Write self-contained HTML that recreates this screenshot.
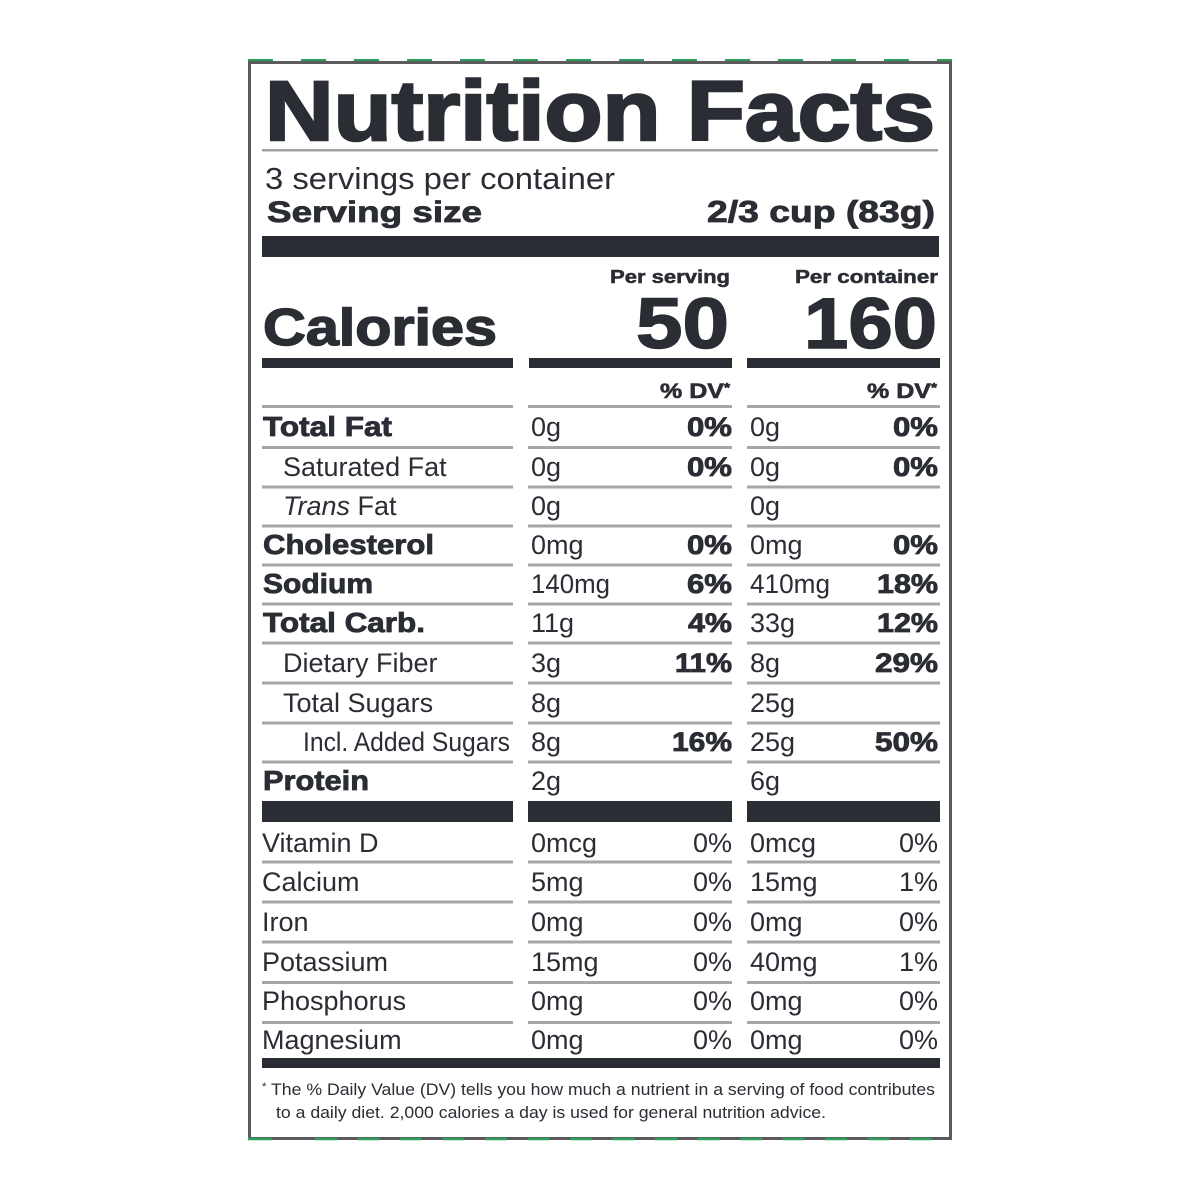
<!DOCTYPE html>
<html>
<head>
<meta charset="utf-8">
<style>
html,body{margin:0;padding:0;background:#fff;}
svg{display:block;}
text{font-family:"Liberation Sans",Arial,sans-serif;fill:#2b2d34;}
.b{font-weight:bold;stroke:#2b2d34;stroke-width:0.8px;}
.r{font-weight:normal;}
</style>
</head>
<body>
<svg width="1200" height="1200" viewBox="0 0 1200 1200" xmlns="http://www.w3.org/2000/svg">
<rect width="1200" height="1200" fill="#fff"/>
<!-- frame -->
<rect x="249.5" y="62.5" width="701" height="1076" fill="#fff" stroke="#5a5a5c" stroke-width="3"/>
<line x1="248" y1="60" x2="952" y2="60" stroke="#2f9d5b" stroke-width="2" stroke-dasharray="25 28"/>
<line x1="248" y1="1139" x2="272" y2="1139" stroke="#2f9d5b" stroke-width="2.5"/>
<line x1="315" y1="1139" x2="952" y2="1139" stroke="#2f9d5b" stroke-width="2.5" stroke-dasharray="22 20.5"/>

<!-- title -->
<text x="265" y="140" font-size="84" font-weight="bold" textLength="670" lengthAdjust="spacingAndGlyphs" stroke="#2b2d34" stroke-width="2.5">Nutrition Facts</text>
<rect x="262" y="149" width="676" height="2.5" fill="#a3a3a3"/>

<text x="265" y="189" font-size="31" textLength="350" lengthAdjust="spacingAndGlyphs">3 servings per container</text>
<text x="267" y="222" font-size="30" class="b" textLength="215" lengthAdjust="spacingAndGlyphs">Serving size</text>
<text x="707" y="222" font-size="31" class="b" textLength="228" lengthAdjust="spacingAndGlyphs">2/3 cup (83g)</text>

<rect x="262" y="236" width="677" height="21" fill="#2b2d34"/>

<text x="610" y="283" font-size="18" class="b" style="stroke-width:0.5px" textLength="120" lengthAdjust="spacingAndGlyphs">Per serving</text>
<text x="795" y="283" font-size="18" class="b" style="stroke-width:0.5px" textLength="143" lengthAdjust="spacingAndGlyphs">Per container</text>

<text x="263" y="345" font-size="52" class="b" style="stroke-width:1.5px" textLength="234" lengthAdjust="spacingAndGlyphs">Calories</text>
<text x="636" y="348" font-size="71" class="b" style="stroke-width:1.5px" textLength="93" lengthAdjust="spacingAndGlyphs">50</text>
<text x="804" y="348" font-size="71" class="b" style="stroke-width:1.5px" textLength="133" lengthAdjust="spacingAndGlyphs">160</text>

<rect x="262" y="358" width="251" height="10" fill="#2b2d34"/>
<rect x="529" y="358" width="203" height="10" fill="#2b2d34"/>
<rect x="747" y="358" width="193" height="10" fill="#2b2d34"/>

<text x="660" y="398" font-size="21" class="b" style="stroke-width:0.6px" textLength="70" lengthAdjust="spacingAndGlyphs">% DV<tspan font-size="13" dy="-6">*</tspan></text>
<text x="867" y="398" font-size="21" class="b" style="stroke-width:0.6px" textLength="70" lengthAdjust="spacingAndGlyphs">% DV<tspan font-size="13" dy="-6">*</tspan></text>

<!-- grey separator lines -->
<g fill="#a6a6a6">
<rect x="262" y="405" width="251" height="3"/><rect x="528" y="405" width="204" height="3"/><rect x="747" y="405" width="193" height="3"/>
<rect x="262" y="446" width="251" height="3"/><rect x="528" y="446" width="204" height="3"/><rect x="747" y="446" width="193" height="3"/>
<rect x="262" y="485.5" width="251" height="3"/><rect x="528" y="485.5" width="204" height="3"/><rect x="747" y="485.5" width="193" height="3"/>
<rect x="262" y="524.5" width="251" height="3"/><rect x="528" y="524.5" width="204" height="3"/><rect x="747" y="524.5" width="193" height="3"/>
<rect x="262" y="563.5" width="251" height="3"/><rect x="528" y="563.5" width="204" height="3"/><rect x="747" y="563.5" width="193" height="3"/>
<rect x="262" y="602.5" width="251" height="3"/><rect x="528" y="602.5" width="204" height="3"/><rect x="747" y="602.5" width="193" height="3"/>
<rect x="262" y="641.5" width="251" height="3"/><rect x="528" y="641.5" width="204" height="3"/><rect x="747" y="641.5" width="193" height="3"/>
<rect x="262" y="681.5" width="251" height="3"/><rect x="528" y="681.5" width="204" height="3"/><rect x="747" y="681.5" width="193" height="3"/>
<rect x="262" y="721.5" width="251" height="3"/><rect x="528" y="721.5" width="204" height="3"/><rect x="747" y="721.5" width="193" height="3"/>
<rect x="262" y="760.5" width="251" height="3"/><rect x="528" y="760.5" width="204" height="3"/><rect x="747" y="760.5" width="193" height="3"/>

<rect x="262" y="860.5" width="251" height="3"/><rect x="528" y="860.5" width="204" height="3"/><rect x="747" y="860.5" width="193" height="3"/>
<rect x="262" y="900.5" width="251" height="3"/><rect x="528" y="900.5" width="204" height="3"/><rect x="747" y="900.5" width="193" height="3"/>
<rect x="262" y="940.5" width="251" height="3"/><rect x="528" y="940.5" width="204" height="3"/><rect x="747" y="940.5" width="193" height="3"/>
<rect x="262" y="981" width="251" height="3"/><rect x="528" y="981" width="204" height="3"/><rect x="747" y="981" width="193" height="3"/>
<rect x="262" y="1021" width="251" height="3"/><rect x="528" y="1021" width="204" height="3"/><rect x="747" y="1021" width="193" height="3"/>
</g>

<!-- rows -->
<g font-size="27">
<!-- Total Fat -->
<text x="263" y="436" font-size="28" class="b" textLength="129" lengthAdjust="spacingAndGlyphs">Total Fat</text>
<text x="531" y="436">0g</text>
<text x="687" y="436" class="b" textLength="45" lengthAdjust="spacingAndGlyphs">0%</text>
<text x="750" y="436">0g</text>
<text x="893" y="436" class="b" textLength="45" lengthAdjust="spacingAndGlyphs">0%</text>

<!-- Saturated Fat -->
<text x="283" y="476">Saturated Fat</text>
<text x="531" y="476">0g</text>
<text x="687" y="476" class="b" textLength="45" lengthAdjust="spacingAndGlyphs">0%</text>
<text x="750" y="476">0g</text>
<text x="893" y="476" class="b" textLength="45" lengthAdjust="spacingAndGlyphs">0%</text>

<!-- Trans Fat -->
<text x="283" y="515"><tspan font-style="italic">Trans</tspan> Fat</text>
<text x="531" y="515">0g</text>
<text x="750" y="515">0g</text>

<!-- Cholesterol -->
<text x="263" y="554" font-size="28" class="b" textLength="171" lengthAdjust="spacingAndGlyphs">Cholesterol</text>
<text x="531" y="554">0mg</text>
<text x="687" y="554" class="b" textLength="45" lengthAdjust="spacingAndGlyphs">0%</text>
<text x="750" y="554">0mg</text>
<text x="893" y="554" class="b" textLength="45" lengthAdjust="spacingAndGlyphs">0%</text>

<!-- Sodium -->
<text x="263" y="593" font-size="28" class="b" textLength="110" lengthAdjust="spacingAndGlyphs">Sodium</text>
<text x="531" y="593" textLength="79" lengthAdjust="spacingAndGlyphs">140mg</text>
<text x="687" y="593" class="b" textLength="45" lengthAdjust="spacingAndGlyphs">6%</text>
<text x="750" y="593" textLength="80" lengthAdjust="spacingAndGlyphs">410mg</text>
<text x="877" y="593" class="b" textLength="61" lengthAdjust="spacingAndGlyphs">18%</text>

<!-- Total Carb. -->
<text x="263" y="632" font-size="28" class="b" textLength="162" lengthAdjust="spacingAndGlyphs">Total Carb.</text>
<text x="531" y="632">11g</text>
<text x="688" y="632" class="b" textLength="44" lengthAdjust="spacingAndGlyphs">4%</text>
<text x="750" y="632">33g</text>
<text x="877" y="632" class="b" textLength="61" lengthAdjust="spacingAndGlyphs">12%</text>

<!-- Dietary Fiber -->
<text x="283" y="672">Dietary Fiber</text>
<text x="531" y="672">3g</text>
<text x="675" y="672" class="b" textLength="57" lengthAdjust="spacingAndGlyphs">11%</text>
<text x="750" y="672">8g</text>
<text x="875" y="672" class="b" textLength="63" lengthAdjust="spacingAndGlyphs">29%</text>

<!-- Total Sugars -->
<text x="283" y="712">Total Sugars</text>
<text x="531" y="712">8g</text>
<text x="750" y="712">25g</text>

<!-- Incl. Added Sugars -->
<text x="303" y="751" textLength="207" lengthAdjust="spacingAndGlyphs">Incl. Added Sugars</text>
<text x="531" y="751">8g</text>
<text x="672" y="751" class="b" textLength="60" lengthAdjust="spacingAndGlyphs">16%</text>
<text x="750" y="751">25g</text>
<text x="875" y="751" class="b" textLength="63" lengthAdjust="spacingAndGlyphs">50%</text>

<!-- Protein -->
<text x="263" y="790" font-size="28" class="b" textLength="106" lengthAdjust="spacingAndGlyphs">Protein</text>
<text x="531" y="790">2g</text>
<text x="750" y="790">6g</text>
</g>

<!-- thick bars after protein -->
<rect x="262" y="801" width="251" height="21" fill="#2b2d34"/>
<rect x="528" y="801" width="204" height="21" fill="#2b2d34"/>
<rect x="747" y="801" width="193" height="21" fill="#2b2d34"/>

<!-- vitamins -->
<g font-size="27">
<text x="262" y="852">Vitamin D</text>
<text x="531" y="852">0mcg</text>
<text x="732" y="852" text-anchor="end">0%</text>
<text x="750" y="852">0mcg</text>
<text x="938" y="852" text-anchor="end">0%</text>

<text x="262" y="891">Calcium</text>
<text x="531" y="891">5mg</text>
<text x="732" y="891" text-anchor="end">0%</text>
<text x="750" y="891">15mg</text>
<text x="938" y="891" text-anchor="end">1%</text>

<text x="262" y="931">Iron</text>
<text x="531" y="931">0mg</text>
<text x="732" y="931" text-anchor="end">0%</text>
<text x="750" y="931">0mg</text>
<text x="938" y="931" text-anchor="end">0%</text>

<text x="262" y="971">Potassium</text>
<text x="531" y="971">15mg</text>
<text x="732" y="971" text-anchor="end">0%</text>
<text x="750" y="971">40mg</text>
<text x="938" y="971" text-anchor="end">1%</text>

<text x="262" y="1010">Phosphorus</text>
<text x="531" y="1010">0mg</text>
<text x="732" y="1010" text-anchor="end">0%</text>
<text x="750" y="1010">0mg</text>
<text x="938" y="1010" text-anchor="end">0%</text>

<text x="262" y="1049">Magnesium</text>
<text x="531" y="1049">0mg</text>
<text x="732" y="1049" text-anchor="end">0%</text>
<text x="750" y="1049">0mg</text>
<text x="938" y="1049" text-anchor="end">0%</text>
</g>

<rect x="262" y="1058" width="678" height="10" fill="#2b2d34"/>

<!-- footnote -->
<text x="262" y="1095" font-size="17" textLength="673" lengthAdjust="spacingAndGlyphs"><tspan font-size="11" dy="-5">*</tspan><tspan dy="5"> The % Daily Value (DV) tells you how much a nutrient in a serving of food contributes</tspan></text>
<text x="276" y="1118" font-size="17" textLength="550" lengthAdjust="spacingAndGlyphs">to a daily diet. 2,000 calories a day is used for general nutrition advice.</text>
</svg>
</body>
</html>
